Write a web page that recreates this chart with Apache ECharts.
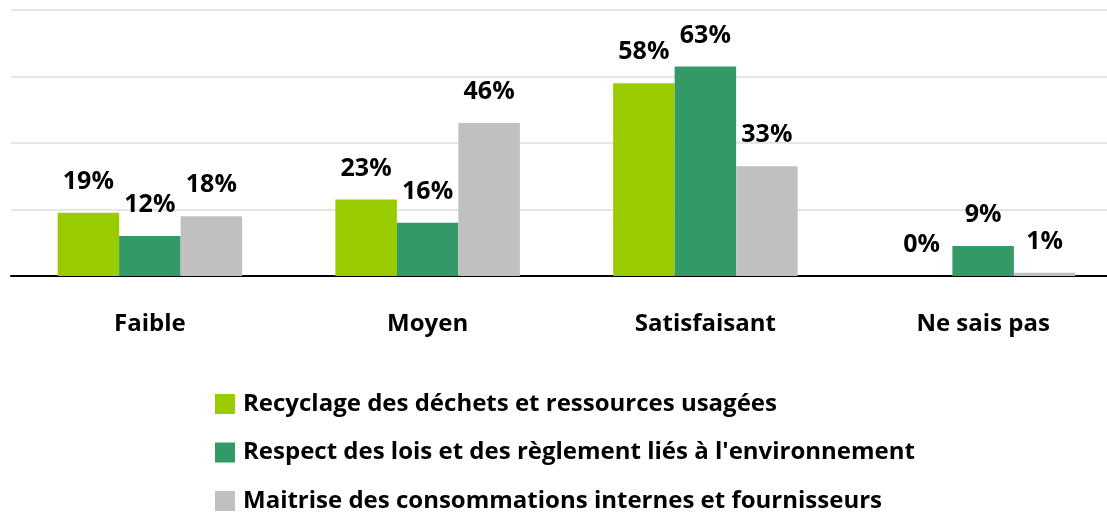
<!DOCTYPE html>
<html lang="fr">
<head>
    <meta charset="UTF-8">
    <title>Bar chart</title>
    <style>
        html, body { margin: 0; padding: 0; background: #fff; overflow: hidden; }
        /* the plot runs slightly past the right edge of the window */
        #chart { width: 1130px; height: 512px; }
    </style>
</head>
<body>
    <div id="chart"></div>
    <script src="https://cdn.jsdelivr.net/npm/echarts@6/dist/echarts.min.js"></script>
    <script>
        // données
        const categories = ['Faible', 'Moyen', 'Satisfaisant', 'Ne sais pas'];
        const recyclage = [19, 23, 58, 0];
        const respect = [12, 16, 63, 9];
        const maitrise = [18, 46, 33, 1];
        const seriesNames = [
            'Recyclage des déchets et ressources usagées',
            "Respect des lois et des règlement liés à l'environnement",
            'Maitrise des consommations internes et fournisseurs'
        ];
        const colors = ['#99cc00', '#339966', '#c0c0c0'];

        const font = '"Open Sans", sans-serif';
        const chart = echarts.init(document.getElementById('chart'));

        function makeSeries(name, data, color) {
            return {
                name: name,
                type: 'bar',
                data: data,
                barWidth: 61.5,
                barGap: '0%',
                itemStyle: { color: color },
                label: {
                    show: true,
                    position: 'top',
                    distance: 18,
                    formatter: '{c}%',
                    fontFamily: font,
                    fontWeight: 'bold',
                    fontSize: 25,
                    lineHeight: 26,
                    color: '#000'
                }
            };
        }

        // une légende par série, empilées verticalement
        const legends = seriesNames.map(function (name, i) {
            return {
                left: 215,
                top: 392 + i * 48.5,
                padding: 0,
                itemWidth: 20,
                itemHeight: 20,
                icon: 'rect',
                textStyle: { fontFamily: font, fontWeight: 'bold', fontSize: 24, lineHeight: 20, color: '#000', padding: [0, 0, 0, 3] },
                data: [name]
            };
        });

        chart.setOption({
            animation: false,
            color: colors,
            grid: { left: 11, right: 8, top: 10, bottom: 236, containLabel: false },
            legend: legends,
            xAxis: {
                type: 'category',
                data: categories,
                axisTick: { show: false },
                axisLine: { lineStyle: { color: '#000', width: 2 } },
                axisLabel: {
                    margin: 36,
                    fontFamily: font,
                    fontWeight: 'bold',
                    fontSize: 24,
                    color: '#000'
                }
            },
            yAxis: {
                type: 'value',
                min: 0,
                max: 80,
                interval: 20,
                axisLabel: { show: false },
                axisLine: { show: false },
                axisTick: { show: false },
                splitLine: { lineStyle: { color: '#e6e6e6', width: 2 } }
            },
            series: [
                makeSeries(seriesNames[0], recyclage, colors[0]),
                makeSeries(seriesNames[1], respect, colors[1]),
                makeSeries(seriesNames[2], maitrise, colors[2])
            ]
        });
    </script>
</body>
</html>
